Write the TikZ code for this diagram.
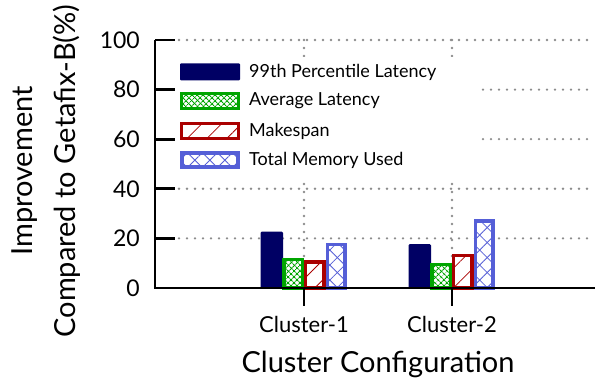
\documentclass[tikz,border=0pt]{standalone}
\usepackage{fontspec}
\setmainfont{Lato}
\usetikzlibrary{patterns.meta}
\definecolor{barnavy}{RGB}{0,0,100}
\definecolor{bargreen}{RGB}{0,165,0}
\definecolor{barred}{RGB}{170,0,0}
\definecolor{barblue}{RGB}{85,95,215}
\definecolor{griddot}{RGB}{140,140,140}
\begin{document}
\begin{tikzpicture}[x=1pt, y=1pt,
    axisline/.style={line width=2.8pt},
    gridline/.style={draw=griddot, line width=2.6pt, line cap=round, dash pattern=on 0pt off 8pt},
    ticklab/.style={font=\fontsize{23}{23}\selectfont, anchor=east, inner sep=0pt},
    axlab/.style={font=\fontsize{29}{43}\selectfont},
    clab/.style={font=\fontsize{22}{22}\selectfont},
    leglab/.style={font=\fontsize{18}{18}\selectfont, anchor=west, inner sep=0pt},
    bar99/.style={draw=barnavy, fill=barnavy, line width=1pt, rounded corners=1pt},
    baravg/.style={draw=bargreen, line width=3.4pt, preaction={fill=white},
        preaction={pattern={Lines[angle=45, distance=4pt, line width=1.1pt]}, pattern color=bargreen},
        preaction={pattern={Lines[angle=-45, distance=4pt, line width=1.1pt]}, pattern color=bargreen}},
    barmake/.style={draw=barred, line width=3.4pt, preaction={fill=white},
        preaction={pattern={Lines[angle=45, distance=14pt, line width=0.8pt]}, pattern color=barred}},
    barmem/.style={draw=barblue, line width=3.8pt, preaction={fill=white},
        preaction={pattern={Lines[angle=45, distance=10.6pt, line width=0.8pt]}, pattern color=barblue},
        preaction={pattern={Lines[angle=-45, distance=10.6pt, line width=0.8pt]}, pattern color=barblue}}
]
\useasboundingbox (0,0) rectangle (595,385);

% Grid
\foreach \v in {20,40,...,100}
  \draw[gridline] (179,97+2.48*\v) -- (591,97+2.48*\v);
\foreach \cx in {304,452}
  \draw[gridline] (\cx,345) -- (\cx,101);

% Legend background
\fill[white] (165,207) rectangle (477,328);

% Bars
\foreach \cx/\va/\vb/\vc/\vd in {304/22.5/11.5/10.5/17.5, 452/17.5/9.5/13/27}{
  \draw[bar99]   (\cx-43,97) rectangle ++(21.5,2.48*\va);
  \draw[baravg]  (\cx-20,97) rectangle ++(18.5,2.48*\vb);
  \draw[barmake] (\cx+1.5,97) rectangle ++(18.5,2.48*\vc);
  \draw[barmem]  (\cx+23.5,97) rectangle ++(17.5,2.48*\vd);
}

% Axes
\draw[axisline] (155,345) -- (155,97) -- (595,97);
\foreach \v in {0,20,...,100}{
  \draw[axisline] (155,97+2.48*\v) -- ++(20,0);
  \node[ticklab] (tick\v) at (140,97+2.48*\v) {\v};
}
\draw[axisline] (304,97) -- ++(0,-18);
\draw[axisline] (452,97) -- ++(0,-18);

% Legend
\fill[barnavy, rounded corners=1pt] (180,304.5) rectangle (240,321.5);
\draw[baravg]  (181.7,276.7) rectangle (238.3,291.3);
\draw[barmake] (181.7,246.7) rectangle (238.3,261.3);
\draw[barmem]  (181.9,217.9) rectangle (238.1,232.1);
\node[leglab] (leg99)   at (249,313) {99th Percentile Latency};
\node[leglab] (legavg)  at (249,284) {Average Latency};
\node[leglab] (legmake) at (249,254) {Makespan};
\node[leglab] (legmem)  at (249,225) {Total Memory Used};

% Labels
\node[clab] (c1) at (304,61) {Cluster-1};
\node[clab] (c2) at (452,61) {Cluster-2};
\node[axlab] (xlab) at (378,21) {Cluster Configuration};
\node[axlab, rotate=90, align=center] (ylab) at (46,214) {Improvement\\Compared to Getafix-B(\%)};
\end{tikzpicture}
\end{document}
